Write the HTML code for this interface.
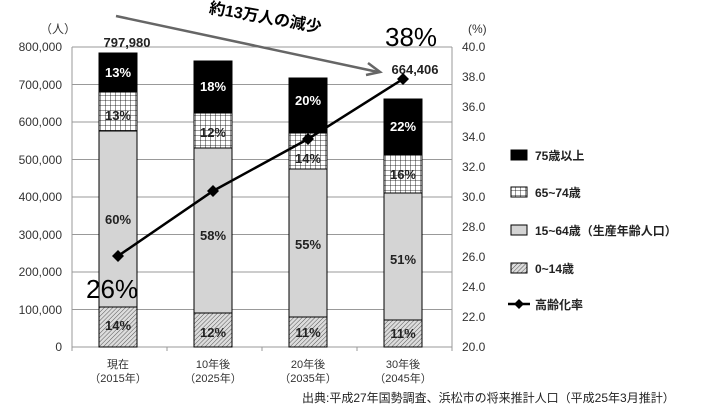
<html><body style="margin:0;background:#fff">
<svg width="710" height="406" xmlns="http://www.w3.org/2000/svg" font-family="Liberation Sans, Noto Sans CJK JP, sans-serif">
<defs>
<pattern id="grid" width="5" height="5" patternUnits="userSpaceOnUse"><rect width="5" height="5" fill="#fff"/><path d="M0 0H5M0 0V5" stroke="#000" stroke-width="0.8"/></pattern>
<pattern id="hat" width="3" height="3" patternUnits="userSpaceOnUse" patternTransform="rotate(45)"><rect width="3" height="3" fill="#ddd"/><path d="M0 0V3" stroke="#555" stroke-width="1"/></pattern>
</defs>
<g stroke="#999" stroke-width="1">
<line x1="72" x2="452" y1="47" y2="47"/><line x1="72" x2="452" y1="84.5" y2="84.5"/><line x1="72" x2="452" y1="122" y2="122"/><line x1="72" x2="452" y1="159.5" y2="159.5"/><line x1="72" x2="452" y1="197" y2="197"/><line x1="72" x2="452" y1="234.5" y2="234.5"/><line x1="72" x2="452" y1="272" y2="272"/><line x1="72" x2="452" y1="309.5" y2="309.5"/>
<line x1="72" x2="72" y1="47" y2="347"/><line x1="452" x2="452" y1="47" y2="347"/>
<line x1="72" x2="452" y1="347" y2="347"/>
<line x1="72" x2="72" y1="347" y2="351"/><line x1="167" x2="167" y1="347" y2="351"/><line x1="262" x2="262" y1="347" y2="351"/><line x1="357" x2="357" y1="347" y2="351"/><line x1="452" x2="452" y1="347" y2="351"/>
</g>
<g font-size="12" fill="#333" text-anchor="end">
<text x="62" y="51">800,000</text><text x="62" y="89">700,000</text><text x="62" y="126">600,000</text><text x="62" y="164">500,000</text><text x="62" y="201">400,000</text><text x="62" y="239">300,000</text><text x="62" y="276">200,000</text><text x="62" y="314">100,000</text><text x="62" y="351">0</text>
</g>
<g font-size="12" fill="#333">
<text x="462" y="51">40.0</text><text x="462" y="81">38.0</text><text x="462" y="111">36.0</text><text x="462" y="141">34.0</text><text x="462" y="171">32.0</text><text x="462" y="201">30.0</text><text x="462" y="231">28.0</text><text x="462" y="261">26.0</text><text x="462" y="291">24.0</text><text x="462" y="321">22.0</text><text x="462" y="351">20.0</text>
<text x="40" y="33">（人）</text><text x="468" y="33">(%)</text>
</g>
<g stroke="#000" stroke-width="1">
<rect x="99" y="53" width="38" height="39" fill="#000"/><rect x="99" y="92" width="38" height="39" fill="url(#grid)"/><rect x="99" y="131" width="38" height="176" fill="#d4d4d4"/><rect x="99" y="307" width="38" height="40" fill="url(#hat)"/>
<rect x="194" y="61" width="38" height="52" fill="#000"/><rect x="194" y="113" width="38" height="35" fill="url(#grid)"/><rect x="194" y="148" width="38" height="165" fill="#d4d4d4"/><rect x="194" y="313" width="38" height="34" fill="url(#hat)"/>
<rect x="289" y="78" width="38" height="55" fill="#000"/><rect x="289" y="133" width="38" height="36" fill="url(#grid)"/><rect x="289" y="169" width="38" height="148" fill="#d4d4d4"/><rect x="289" y="317" width="38" height="30" fill="url(#hat)"/>
<rect x="384" y="99" width="38" height="56" fill="#000"/><rect x="384" y="155" width="38" height="38" fill="url(#grid)"/><rect x="384" y="193" width="38" height="127" fill="#d4d4d4"/><rect x="384" y="320" width="38" height="27" fill="url(#hat)"/>
</g>
<g font-size="13" font-weight="bold" text-anchor="middle">
<g fill="#fff"><text x="118" y="77">13%</text><text x="213" y="91">18%</text><text x="308" y="105">20%</text><text x="403" y="131">22%</text></g>
<g fill="#222"><text x="118" y="120">13%</text><text x="213" y="137">12%</text><text x="308" y="163">14%</text><text x="403" y="179">16%</text>
<text x="118" y="224">60%</text><text x="213" y="240">58%</text><text x="308" y="249">55%</text><text x="403" y="264">51%</text>
<text x="118" y="330">14%</text><text x="213" y="337">12%</text><text x="308" y="337">11%</text><text x="403" y="338">11%</text>
<text x="127" y="47">797,980</text><text x="415" y="74">664,406</text></g>
</g>
<polyline points="118,256 213,191 308,139 403,79" fill="none" stroke="#000" stroke-width="2.5"/>
<g fill="#000"><path d="M118 250l6 6-6 6-6-6z"/><path d="M213 185l6 6-6 6-6-6z"/><path d="M308 133l6 6-6 6-6-6z"/><path d="M403 73l6 6-6 6-6-6z"/></g>
<text x="86" y="298" font-size="26">26%</text>
<text x="385" y="46" font-size="26">38%</text>
<line x1="116" y1="16" x2="378" y2="72" stroke="#666" stroke-width="2.5"/>
<path d="M368 63l12 9-14 3" fill="none" stroke="#666" stroke-width="2.5"/>
<text x="208" y="22" font-size="16" font-weight="bold" transform="rotate(10 260 20)">約13万人の減少</text>
<g font-size="11" fill="#333" text-anchor="middle">
<text x="118" y="368">現在</text><text x="118" y="382">（2015年）</text>
<text x="213" y="368">10年後</text><text x="213" y="382">（2025年）</text>
<text x="308" y="368">20年後</text><text x="308" y="382">（2035年）</text>
<text x="403" y="368">30年後</text><text x="403" y="382">（2045年）</text>
</g>
<g stroke="#000"><rect x="511" y="150" width="16" height="10" fill="#000"/><rect x="511" y="187" width="16" height="10" fill="url(#grid)"/><rect x="511" y="225" width="16" height="10" fill="#d4d4d4"/><rect x="511" y="263" width="16" height="10" fill="url(#hat)"/></g>
<line x1="508" x2="530" y1="304" y2="304" stroke="#000" stroke-width="2.5"/><path d="M519 299l5 5-5 5-5-5z"/>
<g font-size="12" font-weight="bold" fill="#222">
<text x="535" y="160">75歳以上</text><text x="535" y="197">65~74歳</text><text x="535" y="235">15~64歳（生産年齢人口）</text><text x="535" y="273">0~14歳</text><text x="535" y="309">高齢化率</text>
</g>
<text x="302" y="402" font-size="12" fill="#222">出典:平成27年国勢調査、浜松市の将来推計人口（平成25年3月推計）</text>
</svg>
</body></html>
